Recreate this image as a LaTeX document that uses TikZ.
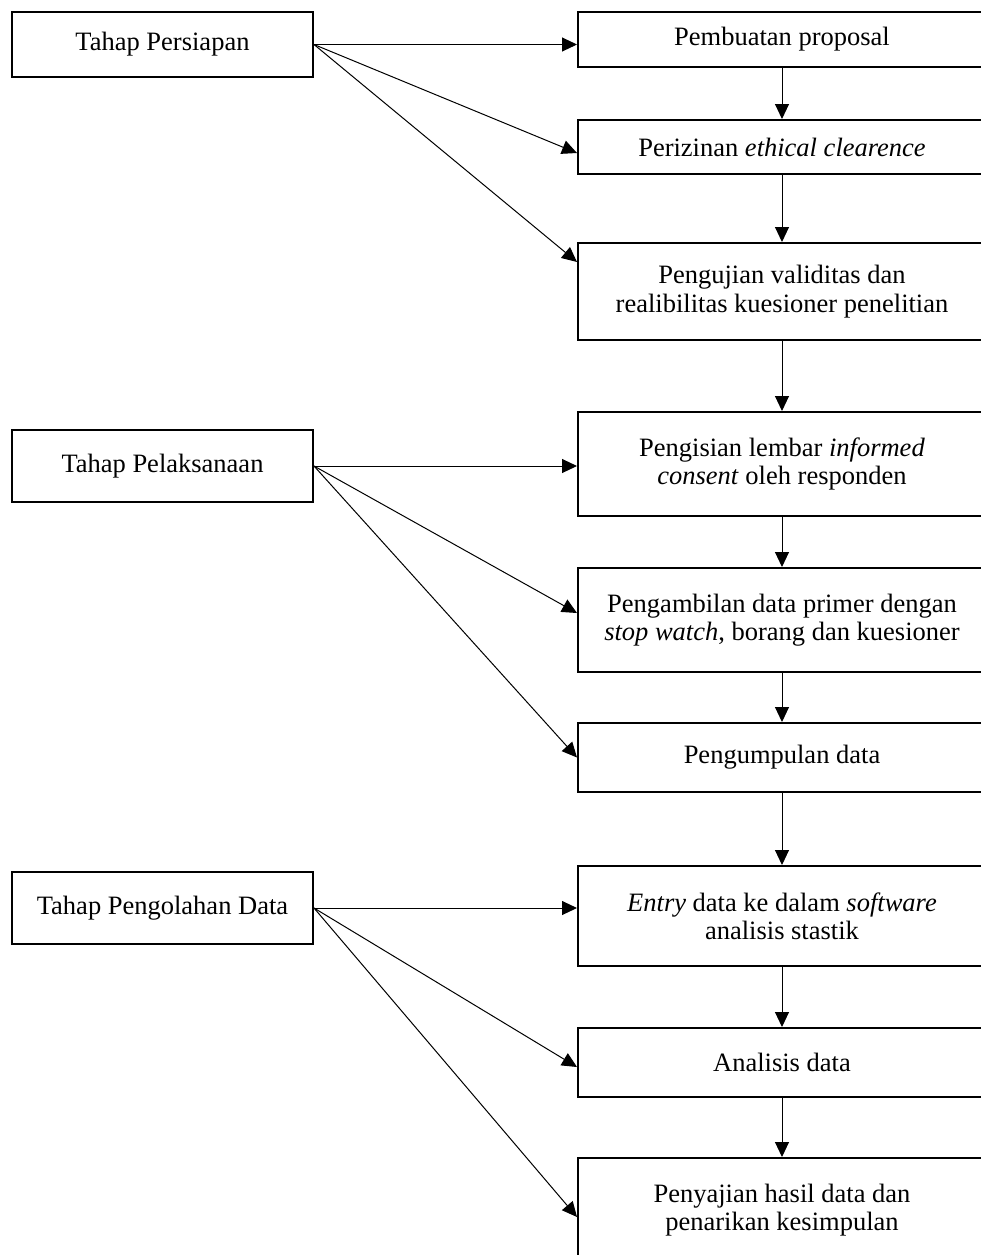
\documentclass[tikz,border=0pt]{standalone}
\usepackage{fontspec}
\setmainfont{Liberation Serif}
\usetikzlibrary{arrows.meta}

\begin{document}
\begin{tikzpicture}[
    x=0.5pt, y=-0.5pt,
    every node/.style={font=\fontsize{13.25}{14.2}\selectfont},
    stage/.style={draw, line width=1pt, minimum width=150.5pt, inner sep=0pt, align=center},
    task/.style={draw, line width=1pt, minimum width=204pt, inner sep=0pt, align=center},
    link/.style={-{Triangle[length=7.5pt,width=7pt]}, line width=0.5pt}
  ]
  \useasboundingbox (0,0) rectangle (981,1255);
  % Stages (left column)
  \node[stage, minimum height=32.5pt] (persiapan) at (162.5,44.5) {Tahap Persiapan};
  \node[stage, minimum height=36pt]   (laksana)   at (162.5,466)  {Tahap Pelaksanaan};
  \node[stage, minimum height=36pt]   (olah)      at (162.5,908)  {Tahap Pengolahan Data};
  % Tasks (right column)
  \node[task, minimum height=27.5pt] (proposal) at (782,39.5)   {Pembuatan proposal};
  \node[task, minimum height=27pt]   (etik)     at (782,147)    {Perizinan \textit{ethical clearence}};
  \node[task, minimum height=48.5pt] (uji)      at (782,291.5)  {Pengujian validitas dan\\realibilitas kuesioner penelitian};
  \node[task, minimum height=52pt]   (isi)      at (782,464)    {Pengisian lembar \textit{informed}\\\textit{consent} oleh responden};
  \node[task, minimum height=52pt]   (ambil)    at (782,620)    {Pengambilan data primer dengan\\\textit{stop watch}, borang dan kuesioner};
  \node[task, minimum height=34.5pt] (kumpul)   at (782,757.5)  {Pengumpulan data};
  \node[task, minimum height=50pt]   (entry)    at (782,916)    {\textit{Entry} data ke dalam \textit{software}\\analisis stastik};
  \node[task, minimum height=34.5pt] (analisis) at (782,1062.5) {Analisis data};
  \node[task, minimum height=52pt]   (saji)     at (782,1210)   {Penyajian hasil data dan\\penarikan kesimpulan};

  % Flow down the right column
  \draw[link] (proposal) -- (etik);
  \draw[link] (etik) -- (uji);
  \draw[link] (uji) -- (isi);
  \draw[link] (isi) -- (ambil);
  \draw[link] (ambil) -- (kumpul);
  \draw[link] (kumpul) -- (entry);
  \draw[link] (entry) -- (analisis);
  \draw[link] (analisis) -- (saji);
  % Persiapan
  \draw[link] (persiapan.east) -- (persiapan.east -| proposal.west);
  \draw[link] (persiapan.east) -- ([yshift=-3pt]etik.west);
  \draw[link] (persiapan.east) -- ([yshift=14.75pt]uji.west);
  % Pelaksanaan
  \draw[link] (laksana.east) -- (laksana.east -| isi.west);
  \draw[link] (laksana.east) -- ([yshift=3.5pt]ambil.west);
  \draw[link] (laksana.east) -- (kumpul.west);
  % Pengolahan data
  \draw[link] (olah.east) -- (olah.east -| entry.west);
  \draw[link] (olah.east) -- ([yshift=-2.25pt]analisis.west);
  \draw[link] (olah.east) -- ([yshift=-3.5pt]saji.west);
\end{tikzpicture}
\end{document}
